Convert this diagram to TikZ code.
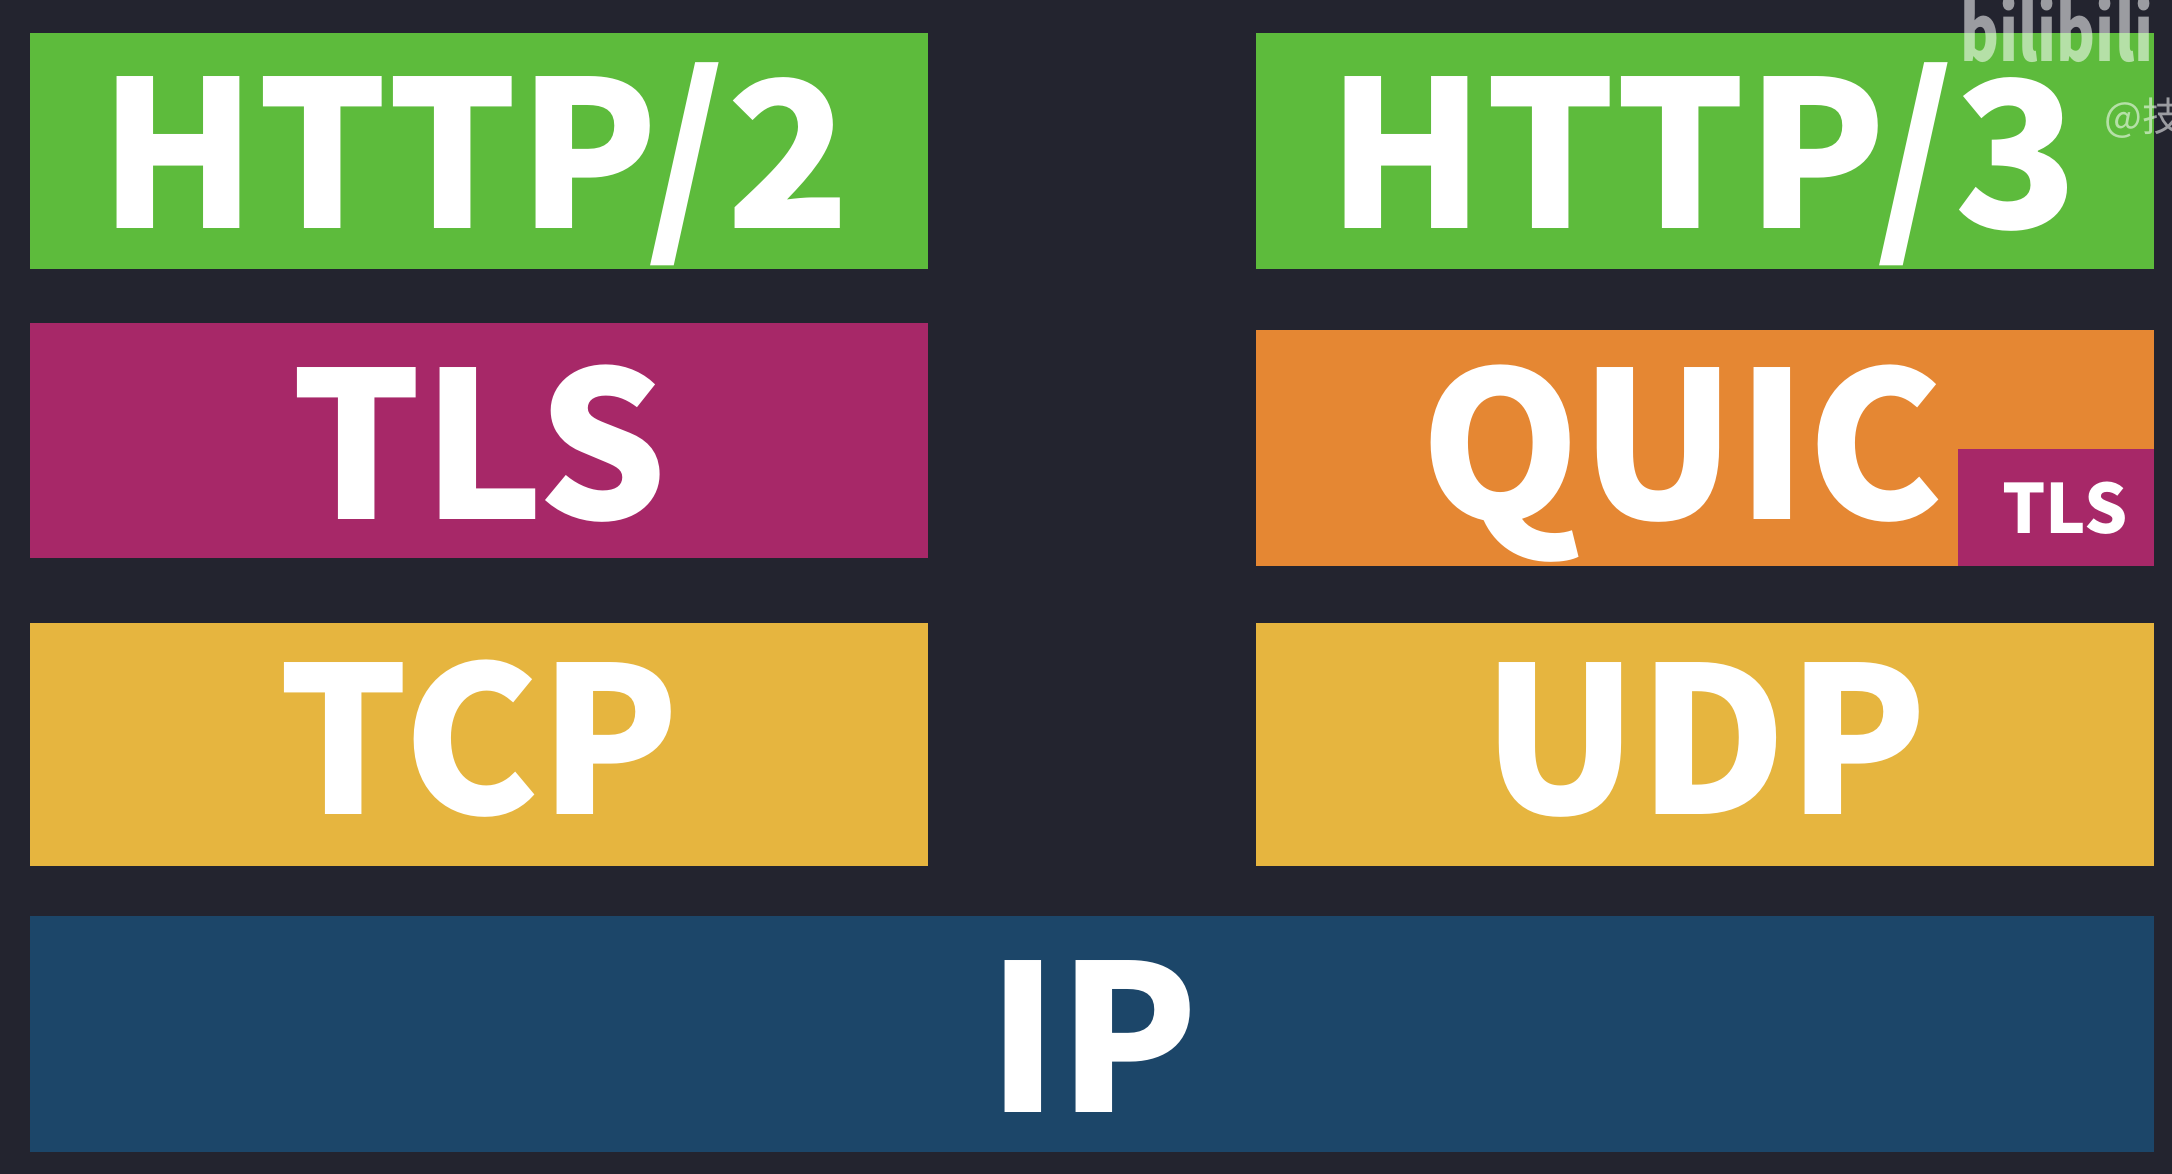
\documentclass[tikz,border=0pt]{standalone}
\usepackage{graphicx}
\usepackage{fontspec}
\setmainfont{Noto Sans CJK SC}[BoldFont={* Black}]
\newfontfamily\wmfont{Noto Sans CJK SC}
\definecolor{bgc}{HTML}{23242F}
\definecolor{grn}{HTML}{5DBB3C}
\definecolor{mag}{HTML}{A72868}
\definecolor{org}{HTML}{E58733}
\definecolor{yel}{HTML}{E6B53F}
\definecolor{blu}{HTML}{1C4669}
\tikzset{
  lab/.style={anchor=base,text=white,inner sep=0pt,font=\fontsize{204}{204}\selectfont\bfseries},
  smalllab/.style={anchor=base,text=white,inner sep=0pt,font=\fontsize{68}{68}\selectfont\bfseries},
  wm/.style={text=white,text opacity=0.55,inner sep=0pt,anchor=base west}
}
\begin{document}
\begin{tikzpicture}[x=1pt,y=-1pt]
\useasboundingbox[fill=bgc] (0,0) rectangle (2172,1174);
\fill[grn] (30,33) rectangle (928,269);
\fill[grn] (1256,33) rectangle (2154,269);
\fill[mag] (30,323) rectangle (928,558);
\fill[org] (1256,330) rectangle (2154,566);
\fill[mag] (1958,449) rectangle (2154,566);
\fill[yel] (30,623) rectangle (928,866);
\fill[yel] (1256,623) rectangle (2154,866);
\fill[blu] (30,916) rectangle (2154,1152);
\node[lab] (h2) at (475,229) {HTTP/2};
\node[lab] (h3) at (1703,229) {HTTP/3};
\node[lab] (tls) at (480,519) {TLS};
\node[lab] (quic) at (1682,519) {QUIC};
\node[smalllab] (tlss) at (2065,533) {TLS};
\node[lab] (tcp) at (479,814) {TCP};
\node[lab] (udp) at (1705,814) {UDP};
\node[lab] (ip) at (1093,1112) {IP};
\node[wm,font=\fontsize{78}{78}\selectfont\bfseries] (wm1) at (1960,62) {\scalebox{0.76}[1]{bilibili}};
\node[wm,font=\wmfont\fontsize{40}{40}\selectfont] (wm2) at (2104,132) {@技};
\end{tikzpicture}
\end{document}
